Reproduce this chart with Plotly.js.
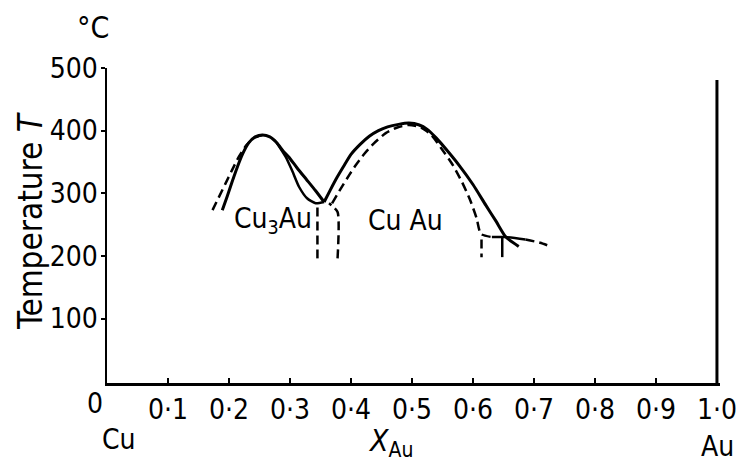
<!DOCTYPE html>
<html>
<head>
<meta charset="utf-8">
<script src="https://cdn.plot.ly/plotly-3.0.1.min.js"></script>
<style>html,body{margin:0;padding:0;background:#fff;}#chart{width:738px;height:464px;}</style>
</head>
<body>
<div id="chart"></div>
<script>
// ---- data (x = mole fraction Au, T = temperature in °C) ----
var cu3auSolidX = [0.189,0.197,0.205,0.213,0.222,0.232,0.243,0.255,0.267,0.278,0.290,0.298,0.312,0.327,0.342,0.356];
var cu3auSolidT = [273,295,318,340,362,380,390,393,390,381,366,358,340,322,304,286];
var cu3auInnerX = [0.278,0.293,0.304,0.315,0.328,0.342,0.356];
var cu3auInnerT = [381,358,335,310,292,284,286];
var cu3auDashX = [0.173,0.183,0.194,0.205,0.216,0.228,0.240,0.255];
var cu3auDashT = [273,293,315,337,358,376,388,393];
var leftBoundX = [0.345,0.345];
var leftBoundT = [196,284];
var rightBoundX = [0.378,0.378,0.364];
var rightBoundT = [196,270,284];
var cuauSolidX = [0.356,0.366,0.377,0.388,0.400,0.415,0.430,0.445,0.460,0.478,0.495,0.512,0.525,0.540,0.557,0.577,0.600,0.621,0.638,0.654,0.675];
var cuauSolidT = [286,305,325,343,362,378,391,400,406,410,412,409,402,388,369,345,314,281,255,230,215];
var cuauDashX = [0.369,0.383,0.397,0.408,0.422,0.438,0.457,0.476,0.495,0.515,0.532,0.550,0.567,0.582,0.595,0.606,0.613,0.631];
var cuauDashT = [284,307,329,345,363,380,396,405,409,405,393,369,345,318,290,260,235,230];
var barX = [0.631,0.654,0.686];
var barT = [230,230,226];
var stemSolidX = [0.648,0.648];
var stemSolidT = [229,198];
var stemDashX = [0.614,0.614];
var stemDashT = [226,198];
var tailDashX = [0.686,0.710,0.730];
var tailDashT = [226,221,214];

var xTickVals = [0.1,0.2,0.3,0.4,0.5,0.6,0.7,0.8,0.9,1.0];
var xTickText = ['0·1','0·2','0·3','0·4','0·5','0·6','0·7','0·8','0·9','1·0'];
var xZeroLabel = '0';
var yTickVals = [100,200,300,400,500];
var yTickText = ['100','200','300','400','500'];
var phaseNames = ['Cu<sub>3</sub>Au','Cu Au'];
var phaseX = [0.272,0.490];
var phaseT = [257,256];

// ---- drawing ----
var FONT = 'DejaVu Sans Condensed, Liberation Sans Narrow, DejaVu Sans, sans-serif';
function line(x, y, dashed, w) {
  return {x: x, y: y, type: 'scatter', mode: 'lines', hoverinfo: 'skip', showlegend: false,
    line: {color: '#000', width: w || 3, dash: dashed ? '9px,5px' : 'solid', shape: 'spline', smoothing: 0.6}};
}
var traces = [
  line(cu3auSolidX, cu3auSolidT, false),
  line(cu3auInnerX, cu3auInnerT, false, 2.5),
  line(cu3auDashX, cu3auDashT, true, 2.5),
  line(leftBoundX, leftBoundT, true, 2.5),
  line(rightBoundX, rightBoundT, true, 2.5),
  line(cuauSolidX, cuauSolidT, false),
  line(cuauDashX, cuauDashT, true, 2.5),
  line(barX, barT, false, 2.5),
  line(stemSolidX, stemSolidT, false, 2.5),
  line(stemDashX, stemDashT, true, 2.5),
  line(tailDashX, tailDashT, true, 2.5)
];

function label(x, y, text, size, extra) {
  var a = {xref:'paper', yref:'paper', x:x, y:y, text:text, showarrow:false, xanchor:'center', yanchor:'middle',
    font:{family:FONT, size:size, color:'#000'}};
  if (extra) for (var k in extra) a[k] = extra[k];
  return a;
}
var annotations = [
  label(-0.0228, 1.13, '°C', 30),
  label(-0.1256, 0.514, 'Temperature <i>T</i>', 33, {textangle:-90}),
  label(0.0196, -0.178, 'Cu', 28),
  label(0.4617, -0.19, '<i>X</i><sub>Au</sub>', 30),
  label(0.9967, -0.203, 'Au', 28),
  label(-0.0196, -0.0635, xZeroLabel, 28)
];
for (var i = 0; i < phaseNames.length; i++) {
  annotations.push({xref:'x', yref:'y', x:phaseX[i], y:phaseT[i], text:phaseNames[i], showarrow:false,
    xanchor:'center', yanchor:'middle', font:{family:FONT, size:28, color:'#000'}});
}

var layout = {
  width: 738, height: 464,
  margin: {l:107, r:18, t:68, b:81},
  paper_bgcolor: '#fff', plot_bgcolor: '#fff',
  font: {family: FONT, size: 28, color: '#000'},
  showlegend: false,
  xaxis: {range:[0,1.005], showgrid:false, zeroline:false, showline:true, linecolor:'#000', linewidth:2.5,
    tickmode:'array', tickvals:xTickVals, ticktext:xTickText, ticks:'inside', ticklen:5, tickwidth:2, tickcolor:'#000',
    ticklabelstandoff:0, tickfont:{family:FONT, size:28, color:'#000'}, fixedrange:true},
  yaxis: {range:[-3,500], showgrid:false, zeroline:false, showline:true, linecolor:'#000', linewidth:2.5,
    tickmode:'array', tickvals:yTickVals, ticktext:yTickText, ticks:'outside', ticklen:4, tickwidth:2, tickcolor:'#000',
    ticklabelstandoff:-3, tickfont:{family:FONT, size:28, color:'#000'}, fixedrange:true},
  shapes: [{type:'line', xref:'x', yref:'y', x0:1.0, x1:1.0, y0:-3, y1:481, line:{color:'#000', width:3}}],
  annotations: annotations
};
Plotly.newPlot('chart', traces, layout, {displayModeBar:false, staticPlot:true});
</script>
</body>
</html>
